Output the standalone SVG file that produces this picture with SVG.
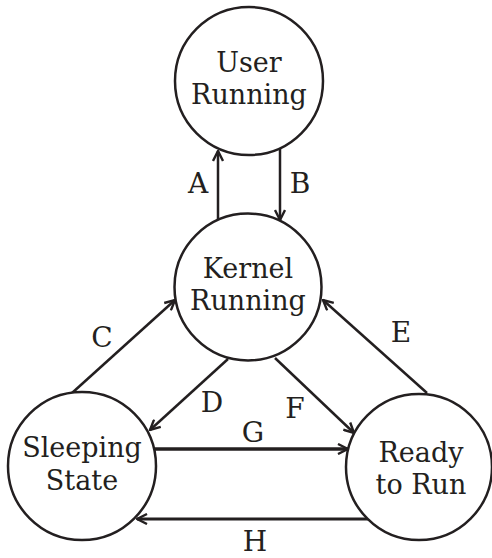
<svg xmlns="http://www.w3.org/2000/svg" width="492" height="558" viewBox="0 0 492 558">
<defs>
<marker id="ah" viewBox="0 0 12 12" refX="11" refY="6" markerWidth="12" markerHeight="12" markerUnits="userSpaceOnUse" orient="auto">
<path d="M1,1 L11,6 L1,11" fill="none" stroke="#231f20" stroke-width="2.4"/>
</marker>
<style>
.n{fill:#fff;stroke:#231f20;stroke-width:2.5}
.t{font-family:"DejaVu Serif","Liberation Serif",serif;font-size:27px;fill:#231f20;text-anchor:middle}
.l{font-family:"DejaVu Serif","Liberation Serif",serif;font-size:28px;fill:#231f20;text-anchor:middle}
.e{stroke:#231f20;stroke-width:2.5;fill:none;marker-end:url(#ah)}
</style>
</defs>
<rect width="492" height="558" fill="#fff"/>
<g id="connectors">
<line class="e" x1="218" y1="221" x2="218" y2="151"/>
<line class="e" x1="280" y1="149" x2="280" y2="220"/>
<line class="e" x1="72" y1="393" x2="175" y2="300"/>
<line class="e" x1="228" y1="359" x2="150" y2="430"/>
<line class="e" x1="427" y1="393" x2="323" y2="300"/>
<line class="e" x1="275" y1="358" x2="354" y2="433"/>
<line class="e" x1="155" y1="449" x2="348" y2="449" style="stroke-width:3.5"/>
<line class="e" x1="368" y1="519" x2="137" y2="519" style="stroke-width:3"/>
<text class="l" x="198" y="193">A</text>
<text class="l" x="300" y="193">B</text>
<text class="l" x="102" y="347">C</text>
<text class="l" x="212" y="412">D</text>
<text class="l" x="401" y="342">E</text>
<text class="l" x="295" y="418">F</text>
<text class="l" x="253" y="442">G</text>
<text class="l" x="255" y="551">H</text>
</g>
<g id="user-running">
<circle class="n" cx="249" cy="81" r="74"/>
<text class="t" x="249" y="72">User</text>
<text class="t" x="249" y="104">Running</text>
</g>
<g id="kernel-running">
<circle class="n" cx="248" cy="287" r="73.5"/>
<text class="t" x="248" y="278">Kernel</text>
<text class="t" x="248" y="310">Running</text>
</g>
<g id="sleeping-state">
<circle class="n" cx="82" cy="466" r="74"/>
<text class="t" x="82" y="457">Sleeping</text>
<text class="t" x="82" y="490">State</text>
</g>
<g id="ready-to-run">
<circle class="n" cx="419" cy="467" r="73"/>
<text class="t" x="421" y="462">Ready</text>
<text class="t" x="421" y="494">to Run</text>
</g>
</svg>
